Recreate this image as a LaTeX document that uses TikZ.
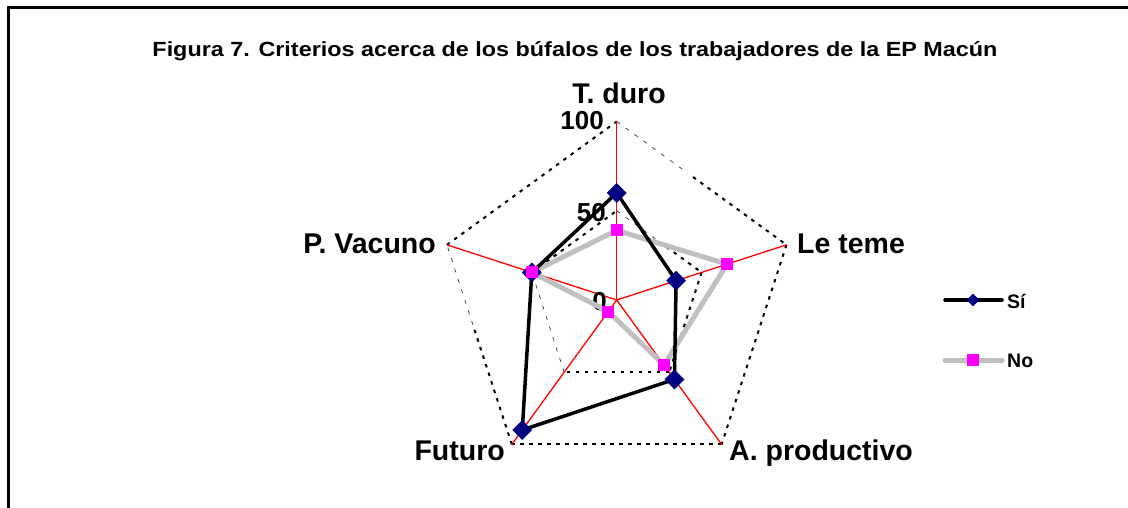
\documentclass[tikz,border=0pt]{standalone}
\usepackage{fontspec}
\setmainfont{Liberation Sans}
\usetikzlibrary{calc,shapes.geometric}
\definecolor{sinavy}{RGB}{0,0,128}
\definecolor{nogray}{RGB}{192,192,192}
\definecolor{nomag}{RGB}{255,0,255}
\tikzset{
  gridthick/.style={black,line width=2pt,dash pattern=on 3.5pt off 5.5pt},
  gridthin/.style={black!80,line width=0.7pt,dash pattern=on 4pt off 7pt},
  axisline/.style={red,line width=1.3pt},
  siline/.style={black,line width=3.5pt,line join=round},
  noline/.style={nogray,line width=5pt,line join=round},
  simark/.style={diamond,fill=sinavy,inner sep=0pt,minimum width=20pt,minimum height=20pt},
  nomark/.style={rectangle,fill=nomag,inner sep=0pt,minimum size=12pt},
  axlabel/.style={font=\bfseries\fontsize{28.5}{31}\selectfont,inner sep=0pt},
  numlabel/.style={font=\bfseries\fontsize{26}{28}\selectfont,inner sep=0pt},
  leglabel/.style={font=\bfseries\fontsize{19.5}{22}\selectfont,inner sep=0pt},
}
\begin{document}
\begin{tikzpicture}[x=1pt,y=-1pt]
\useasboundingbox (0,0) rectangle (1128,508);
\fill[white] (0,0) rectangle (1128,508);
% frame
\draw[line width=2.5pt] (8.5,510) -- (8.5,7.5) -- (1130,7.5);
% title
\node[inner sep=0pt,anchor=base] (title) at (575,57)
  {\scalebox{1.14}[1]{\bfseries\fontsize{20.5}{23}\selectfont Figura 7. Criterios acerca de los búfalos de los trabajadores de la EP Macún}};
% geometry
\coordinate (C) at (616.7,300);
\foreach \a/\n in {0/T,72/L,144/A,216/F,288/P}{
  \coordinate (\n100) at ($(C)+({178.5*sin(\a)},{-178.5*cos(\a)})$);
  \coordinate (\n50) at ($(C)+({89.25*sin(\a)},{-89.25*cos(\a)})$);
}
% outer grid
\draw[gridthin] (T100) -- ($(T100)!0.42!(L100)$);
\draw[gridthick] ($(T100)!0.45!(L100)$) -- (L100);
\draw[gridthick] (L100) -- (A100);
\draw[gridthick] (A100) -- (F100);
\draw[gridthick] (F100) -- ($(F100)!0.58!(P100)$);
\draw[gridthin] ($(F100)!0.6!(P100)$) -- (P100);
\draw[gridthick] (P100) -- (T100);
% inner grid
\draw[gridthin] (T50) -- ($(T50)!0.5!(L50)$);
\draw[gridthick] ($(T50)!0.5!(L50)$) -- (L50);
\draw[gridthick] (L50) -- (A50);
\draw[gridthick] (A50) -- (F50);
\draw[gridthin] (F50) -- (P50);
\draw[gridthick] (P50) -- (T50);
% axes
\foreach \n in {T,L,A,F,P}{\draw[axisline] (C) -- (\n100);}
% axis labels
\node[axlabel,anchor=base] (lT) at (619,104) {T. duro};
\node[axlabel,anchor=base west] (lL) at (797,254) {Le teme};
\node[axlabel,anchor=base west] (lA) at (729,460) {A. productivo};
\node[axlabel,anchor=base east] (lF) at (505,460) {Futuro};
\node[axlabel,anchor=base east] (lP) at (436,254) {P. Vacuno};
\node[numlabel,anchor=base east] (n100) at (604,130) {100};
\node[numlabel,anchor=base east] (n50) at (606,222) {50};
\node[numlabel,anchor=base east] (n0) at (607,310) {0};
% data points
\foreach \a/\n/\s/\o in {0/T/60/39,72/L/35/65,144/A/55/45,216/F/90/8,288/P/50/50}{
  \coordinate (s\n) at ($(C)+({1.785*\s*sin(\a)},{-1.785*\s*cos(\a)})$);
  \coordinate (o\n) at ($(C)+({1.785*\o*sin(\a)},{-1.785*\o*cos(\a)})$);
}
\draw[noline] (oT) -- (oL) -- (oA) -- (oF) -- (oP) -- cycle;
\draw[siline] (sT) -- (sL) -- (sA) -- (sF) -- (sP) -- cycle;
\foreach \n in {T,L,A,F,P}{\node[simark] (ms\n) at (s\n) {};}
\foreach \n in {T,L,A,F,P}{\node[nomark] (mo\n) at (o\n) {};}
% legend
\coordinate (lgs1) at (945,300); \coordinate (lgs2) at (1002,300);
\coordinate (lgo1) at (945,360); \coordinate (lgo2) at (1002,360);
\draw[black,line width=3.5pt,line cap=round] (lgs1) -- (lgs2);
\node[simark,minimum width=13pt,minimum height=13pt] (lgsm) at (973,300) {};
\draw[nogray,line width=5pt,line cap=round] (lgo1) -- (lgo2);
\node[nomark] (lgom) at (973,360) {};
\node[leglabel,anchor=west] (lgst) at (1007,301) {Sí};
\node[leglabel,anchor=west] (lgot) at (1007,361) {No};
\end{tikzpicture}
\end{document}
